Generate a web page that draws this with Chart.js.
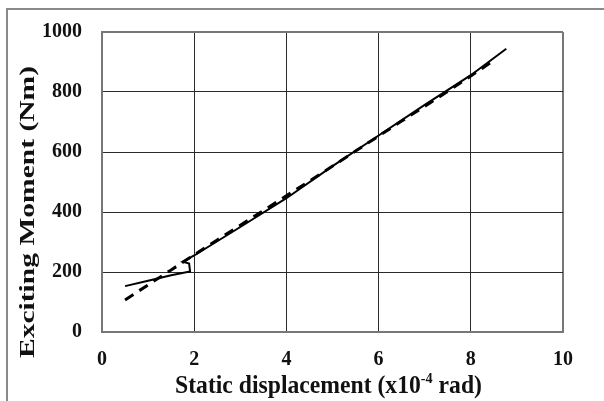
<!DOCTYPE html>
<html>
<head>
<meta charset="utf-8">
<script src="https://cdn.jsdelivr.net/npm/chart.js@4/dist/chart.umd.min.js"></script>
<style>
  html, body { margin: 0; padding: 0; background: #fff; }
  #wrap { position: relative; width: 604px; height: 401px; }
</style>
</head>
<body>
<div id="wrap"><canvas id="c" width="604" height="401"></canvas></div>
<script>
// Measured response: static displacement (x10^-4 rad) vs exciting moment (Nm)
const solidX = [0.5, 1.0, 1.5, 1.91, 1.89, 1.75, 2.0, 3.0, 4.0, 5.0, 6.0, 7.0, 8.0, 8.77];
const solidY = [153, 171, 189, 202, 228, 234, 255, 350, 446, 553, 655, 757, 856, 944];

// Fitted / predicted response (dashed)
const dashedX = [0.5, 1.5, 2.5, 3.5, 4.5, 5.5, 6.5, 7.5, 8.5];
const dashedY = [107, 207, 307, 405, 503, 603, 703, 802, 905];

const xTicks = [0, 2, 4, 6, 8, 10];
const yTicks = [0, 200, 400, 600, 800, 1000];

const xTitleParts = ['Static displacement (x10', '-4', ' rad)'];
const yTitle = 'Exciting Moment (Nm)';

const serif = '"Liberation Serif", "Times New Roman", serif';

const toPoints = (xs, ys) => xs.map((x, i) => ({ x, y: ys[i] }));

// Page frame and axis titles (x title carries a superscript exponent)
const decorations = {
  id: 'decorations',
  beforeDraw(chart) {
    const ctx = chart.ctx;
    ctx.save();
    ctx.fillStyle = '#fff';
    ctx.fillRect(0, 0, chart.width, chart.height);
    ctx.strokeStyle = '#8a8a8a';
    ctx.lineWidth = 2;
    ctx.beginPath();
    ctx.moveTo(7, chart.height + 2);
    ctx.lineTo(7, 9);
    ctx.lineTo(chart.width + 2, 9);
    ctx.stroke();
    ctx.restore();
  },
  afterDraw(chart) {
    const { ctx, chartArea } = chart;
    ctx.save();
    ctx.fillStyle = '#111';
    ctx.textBaseline = 'alphabetic';

    // x-axis title, slightly condensed serif with a raised exponent
    const big = 'bold 25px ' + serif;
    const small = 'bold 15px ' + serif;
    const fonts = [big, small, big];
    const rise = [0, -10, 0];
    let total = 0;
    const widths = xTitleParts.map((t, i) => { ctx.font = fonts[i]; const w = ctx.measureText(t).width; total += w; return w; });
    const sx = 307 / total;
    ctx.save();
    ctx.translate((chartArea.left + chartArea.right) / 2 - 4, 393);
    ctx.scale(sx, 1);
    let x = -total / 2;
    xTitleParts.forEach((t, i) => {
      ctx.font = fonts[i];
      ctx.textAlign = 'left';
      ctx.fillText(t, x, rise[i]);
      x += widths[i];
    });
    ctx.restore();

    // y-axis title, elongated along its reading direction
    ctx.save();
    ctx.font = 'bold 22px ' + serif;
    const yw = ctx.measureText(yTitle).width;
    ctx.translate(34, (chartArea.top + chartArea.bottom) / 2 + 30);
    ctx.rotate(-Math.PI / 2);
    ctx.scale(292 / yw, 1);
    ctx.textAlign = 'center';
    ctx.fillText(yTitle, 0, 0);
    ctx.restore();

    ctx.restore();
  }
};

const edgeColor = (ctx, last) => (ctx.tick && ctx.tick.value === last ? '#777' : '#2a2a2a');
const edgeWidth = (ctx, last) => (ctx.tick && ctx.tick.value === last ? 2 : 1);

new Chart(document.getElementById('c'), {
  type: 'scatter',
  data: {
    datasets: [
      {
        label: 'Measured',
        data: toPoints(solidX, solidY),
        showLine: true,
        borderColor: '#000',
        borderWidth: 2,
        pointRadius: 0,
        tension: 0,
        fill: false
      },
      {
        label: 'Predicted',
        data: toPoints(dashedX, dashedY),
        showLine: true,
        borderColor: '#000',
        borderWidth: 3,
        borderDash: [10, 7],
        pointRadius: 0,
        tension: 0,
        fill: false
      }
    ]
  },
  options: {
    responsive: false,
    animation: false,
    devicePixelRatio: 1,
    layout: { padding: { left: 0, top: 28, right: 41, bottom: 0 } },
    plugins: { legend: { display: false }, tooltip: { enabled: false } },
    scales: {
      x: {
        type: 'linear',
        min: 0, max: 10,
        afterBuildTicks: s => { s.ticks = xTicks.map(v => ({ value: v })); },
        afterFit: s => { s.height = 69; },
        grid: { color: c => edgeColor(c, 10), lineWidth: c => edgeWidth(c, 10), drawTicks: false },
        border: { color: '#777', width: 2 },
        ticks: { color: '#111', padding: 16, callback: v => String(v), font: { family: serif, size: 20, weight: 'bold' } }
      },
      y: {
        type: 'linear',
        min: 0, max: 1000,
        afterBuildTicks: s => { s.ticks = yTicks.map(v => ({ value: v })); },
        afterFit: s => { s.width = 102; },
        grid: { color: c => edgeColor(c, 1000), lineWidth: c => edgeWidth(c, 1000), drawTicks: false },
        border: { color: '#777', width: 2 },
        ticks: { color: '#111', padding: 20, callback: v => String(v), font: { family: serif, size: 20, weight: 'bold' } }
      }
    }
  },
  plugins: [decorations]
});
</script>
</body>
</html>
